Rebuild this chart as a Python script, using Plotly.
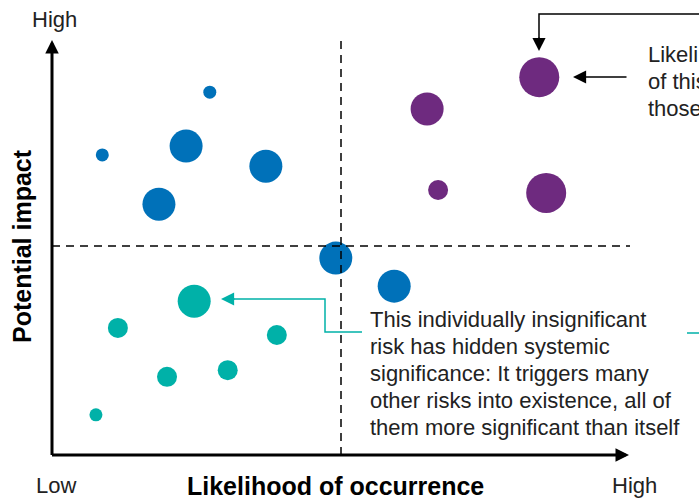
import plotly.graph_objects as go

# ---- data (likelihood 0-10, impact 0-10, significance class 1-4) ----
blue_likelihood = [2.73, 0.87, 2.32, 3.70, 1.85, 4.91, 5.92]
blue_impact = [8.68, 7.18, 7.39, 6.91, 6.00, 4.71, 4.04]
blue_signif = [1, 1, 3, 3, 3, 3, 3]

purple_likelihood = [8.43, 6.49, 6.68, 8.55]
purple_impact = [9.04, 8.28, 6.34, 6.27]
purple_signif = [4, 3, 2, 4]

teal_likelihood = [2.46, 1.14, 3.89, 1.99, 3.04, 0.76]
teal_impact = [3.68, 3.04, 2.87, 1.87, 2.03, 0.96]
teal_signif = [3, 2, 2, 2, 2, 1]

axis_low = "Low"
axis_high = "High"
x_title = "Likelihood of occurrence"
y_title = "Potential impact"
note_lines = ["This individually insignificant",
              "risk has hidden systemic",
              "significance: It triggers many",
              "other risks into existence, all of",
              "them more significant than itself"]
top_note_lines = ["Likelihood and impact",
                  "of this risk are higher than",
                  "those of all other risks"]

# ---- styling ----
BLUE = "#0071b9"
PURPLE = "#6e2a7f"
TEAL = "#00b1a8"
TEXT = "#222222"
FONT = "Liberation Sans, Arial, sans-serif"
SIZE_PX = {1: 13, 2: 20, 3: 33, 4: 40}

W, H = 699, 501
L_M, R_M, T_M, B_M = 52, 69, 37, 46
PW = W - L_M - R_M
PH = H - T_M - B_M


def px(p):
    return (p - L_M) / PW


def py(p):
    return (H - B_M - p) / PH


fig = go.Figure()
for lk, im, sg, col in [(blue_likelihood, blue_impact, blue_signif, BLUE),
                        (purple_likelihood, purple_impact, purple_signif, PURPLE),
                        (teal_likelihood, teal_impact, teal_signif, TEAL)]:
    fig.add_trace(go.Scatter(
        x=lk, y=im, mode="markers",
        marker=dict(size=[SIZE_PX[s] for s in sg], color=col, line=dict(width=0), opacity=1),
        hoverinfo="skip", cliponaxis=False))

shapes = []
# quadrant dashed lines
shapes.append(dict(type="line", xref="x", yref="y", x0=5, x1=5, y0=0, y1=10,
                   line=dict(color="black", width=1.5, dash="8px,6px")))
shapes.append(dict(type="line", xref="x", yref="y", x0=0, x1=10, y0=5, y1=5,
                   line=dict(color="black", width=1.5, dash="8px,6px")))


def path(points):
    return "M" + " L".join(f"{px(a):.5f},{py(b):.5f}" for a, b in points)


shapes.append(dict(type="path", xref="paper", yref="paper",
                   path=path([(730, 14), (539, 14), (539, 40)]),
                   line=dict(color="black", width=1.5)))
shapes.append(dict(type="path", xref="paper", yref="paper",
                   path=path([(362, 332), (325, 332), (325, 299), (232, 299)]),
                   line=dict(color=TEAL, width=1.5)))
shapes.append(dict(type="path", xref="paper", yref="paper",
                   path=path([(687, 333), (730, 333)]),
                   line=dict(color=TEAL, width=1.5)))

ann = []


def arrow(tip, tail, color, width, size):
    ann.append(dict(xref="paper", yref="paper", x=px(tip[0]), y=py(tip[1]),
                    ax=tail[0] - tip[0], ay=tail[1] - tip[1], text="",
                    showarrow=True, arrowhead=2, arrowwidth=width, arrowsize=size,
                    arrowcolor=color, standoff=0, startstandoff=0))


# axes
arrow((629, 455), (50.5, 455), "black", 3, 0.9)
arrow((52, 40), (52, 456.5), "black", 3, 0.9)
# connectors
arrow((539, 51), (539, 36), "black", 1.5, 1.75)
arrow((573, 77), (628, 77), "black", 1.5, 1.75)
arrow((221, 299), (236, 299), TEAL, 1.5, 1.75)


def text(t, x, y, size=22, bold=False, anchor="center", color=TEXT, angle=0):
    ann.append(dict(xref="paper", yref="paper", x=px(x), y=py(y), text=t,
                    showarrow=False, xanchor=anchor, yanchor="middle", textangle=angle,
                    font=dict(family=FONT, size=size, color=color,
                              weight="bold" if bold else "normal")))


text(axis_high, 54, 19)
text(axis_low, 56, 485)
text(axis_high, 634, 485)
text(x_title, 335, 486, size=25, bold=True, color="black")
text(y_title, 22, 246, size=25, bold=True, color="black", angle=-90)
for i, ln in enumerate(note_lines):
    text(ln, 368, 320 + i * 26.8, anchor="left")
for i, ln in enumerate(top_note_lines):
    text(ln, 646, 54 + i * 27, anchor="left")

fig.update_layout(
    width=W, height=H, margin=dict(l=L_M, r=R_M, t=T_M, b=B_M),
    paper_bgcolor="white", plot_bgcolor="white", showlegend=False,
    xaxis=dict(range=[0, 10], visible=False, fixedrange=True),
    yaxis=dict(range=[0, 10], visible=False, fixedrange=True),
    shapes=shapes, annotations=ann)

fig.write_html("out.html", config={"displayModeBar": False},
               post_script="document.body.style.margin='0';")
